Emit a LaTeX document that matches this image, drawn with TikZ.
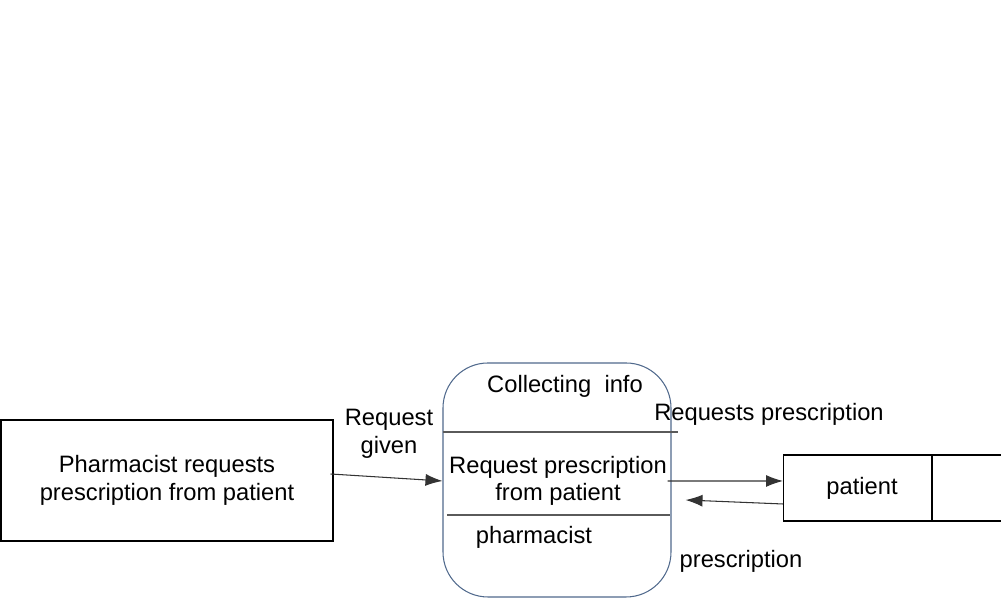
\documentclass[tikz,border=0pt]{standalone}
\usepackage{fontspec}
\setmainfont{Liberation Sans}
\usepackage{tikz}
\usetikzlibrary{calc, positioning, arrows.meta}
\definecolor{procblue}{RGB}{80,105,140}
\definecolor{lineGray}{RGB}{90,90,90}
\tikzset{
    txt/.style={font=\fontsize{13.5pt}{15.6pt}\selectfont, align=center, inner sep=0pt},
    extbox/.style={rectangle, draw=black, line width=0.6pt, minimum width=6.64cm, minimum height=2.42cm, txt},
    procbox/.style={rectangle, draw=procblue, line width=0.6pt, rounded corners=0.9cm, minimum width=4.56cm, minimum height=4.68cm},
    storebox/.style={rectangle, draw=black, line width=0.6pt, minimum width=5.4cm, minimum height=1.32cm},
    divider/.style={draw=lineGray, line width=0.7pt},
    flow/.style={-{Latex[length=3.4mm,width=2.4mm]}, draw=black!80, line width=0.6pt}
}
\begin{document}
\begin{tikzpicture}
        \useasboundingbox (0,0) rectangle (20.02,12.02);

        % External entity
        \node[extbox] (pharm) at (3.34,2.41) {Pharmacist requests\\prescription from patient};

        % Process
        \node[procbox] (proc) at (11.14,2.42) {};
        \draw[divider] (8.86,3.38) -- (13.56,3.38);
        \draw[divider] (8.94,1.72) -- (13.40,1.72);
        \node[txt] (procid) at (11.3,4.3) {Collecting\ \ info};
        \node[txt] (procname) at (11.16,2.4) {Request prescription\\from patient};
        \node[txt] (procwho) at (10.68,1.28) {pharmacist};

        % Data store
        \node[storebox, anchor=west] (patient) at (15.66,2.26) {};
        \draw[black, line width=0.6pt] (18.64,2.92) -- (18.64,1.60);
        \node[txt] (patname) at (17.24,2.26) {patient};

        % Flows
        \draw[flow] ($(pharm.east)+(-0.06,0.13)$) -- ($(proc.west)+(0,-0.02)$);
        \node[txt] (lblgiven) at (7.78,3.34) {Request\\given};
        \draw[flow] ($(proc.east)+(-0.08,-0.02)$) -- ($(patient.west)+(0,0.14)$);
        \node[txt] (lblreq) at (15.38,3.74) {Requests prescription};
        \draw[flow] ($(patient.west)+(0,-0.32)$) -- ($(proc.east)+(0.28,-0.40)$);
        \node[txt] (lblpres) at (14.82,0.8) {prescription};
    \end{tikzpicture}
\end{document}
